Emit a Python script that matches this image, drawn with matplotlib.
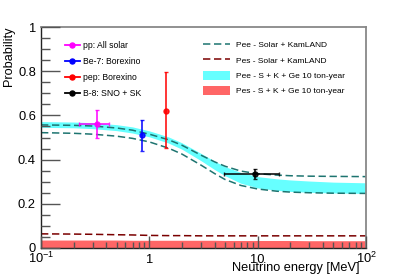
import matplotlib
matplotlib.use('Agg')
import matplotlib.pyplot as plt
from matplotlib.lines import Line2D
from matplotlib.patches import Patch
from matplotlib.ticker import FixedLocator, LogLocator, MultipleLocator, NullFormatter

plt.rcParams['font.family'] = ['Liberation Sans', 'DejaVu Sans']
plt.rcParams['mathtext.fontset'] = 'custom'
plt.rcParams['mathtext.rm'] = 'Liberation Sans'
plt.rcParams['mathtext.it'] = 'Liberation Sans:italic'
plt.rcParams['mathtext.bf'] = 'Liberation Sans:bold'

# energies [MeV] at which the curves were read
energy = [0.1, 0.2, 0.3, 0.5, 0.7, 1.0, 1.5, 2.0, 3.0, 4.0, 5.0, 7.0, 10, 15, 20, 30, 50, 100]

# Pee - Solar + KamLAND (upper / lower)
pee_kl_hi = [0.557, 0.555, 0.552, 0.543, 0.533, 0.515, 0.490, 0.465, 0.420, 0.390, 0.370, 0.348,
             0.336, 0.330, 0.327, 0.325, 0.324, 0.323]
pee_kl_lo = [0.522, 0.519, 0.515, 0.506, 0.496, 0.480, 0.452, 0.425, 0.375, 0.337, 0.310, 0.283,
             0.267, 0.257, 0.253, 0.250, 0.248, 0.247]

# Pee - S + K + Ge 10 ton-year band
pee_ge_hi = [0.572, 0.570, 0.567, 0.558, 0.548, 0.530, 0.503, 0.476, 0.428, 0.393, 0.368, 0.342,
             0.323, 0.313, 0.308, 0.303, 0.298, 0.295]
pee_ge_lo = [0.546, 0.544, 0.540, 0.531, 0.520, 0.503, 0.475, 0.447, 0.395, 0.355, 0.327, 0.293,
             0.272, 0.261, 0.256, 0.252, 0.249, 0.247]

# Pes - Solar + KamLAND
pes_kl = [0.064, 0.063, 0.062, 0.060, 0.059, 0.057, 0.056, 0.056, 0.055, 0.055, 0.055, 0.055,
          0.055, 0.055, 0.055, 0.055, 0.055, 0.055]

# Pes - S + K + Ge 10 ton-year band
pes_ge_hi = [0.036, 0.036, 0.036, 0.036, 0.035, 0.035, 0.035, 0.035, 0.035, 0.035, 0.034, 0.034,
             0.034, 0.034, 0.034, 0.033, 0.033, 0.033]
pes_ge_lo = [0.0] * len(energy)

# measurements
meas_labels = ['pp: All solar', 'Be-7: Borexino', 'pep: Borexino', 'B-8: SNO + SK']
meas_colors = ['#ff00ff', '#0000ff', '#ff0000', '#000000']
meas_E = [0.33, 0.862, 1.44, 9.5]
meas_E_lo = [0.224, 0.862, 1.44, 4.9]
meas_E_hi = [0.425, 0.862, 1.44, 15.9]
meas_P = [0.56, 0.511, 0.62, 0.335]
meas_P_lo = [0.50, 0.44, 0.454, 0.312]
meas_P_hi = [0.624, 0.579, 0.795, 0.356]

x_ticks = [0.1, 1, 10, 100]
x_ticklabels = ['$10^{-1}$', '1', '10', '$10^{2}$']

teal = '#1d7470'
darkred = '#7a0000'
cyan = '#66ffff'
pink = '#ff6666'

W, H = 407, 276
fig = plt.figure(figsize=(W / 100, H / 100), dpi=100)
ax = fig.add_axes([41 / W, 28 / H, 325 / W, 221 / H])

ax.fill_between(energy, pes_ge_lo, pes_ge_hi, color=pink, lw=0, zorder=1)
ax.fill_between(energy, pee_ge_lo, pee_ge_hi, color=cyan, lw=0, zorder=1)

dash = (4.8, 2.4)
ax.plot(energy, pee_kl_hi, color=teal, lw=1.1, dashes=dash, zorder=2)
ax.plot(energy, pee_kl_lo, color=teal, lw=1.1, dashes=dash, zorder=2)
ax.plot(energy, pes_kl, color=darkred, lw=1.1, dashes=dash, zorder=2)

for i in range(len(meas_E)):
    xerr = [[meas_E[i] - meas_E_lo[i]], [meas_E_hi[i] - meas_E[i]]]
    yerr = [[meas_P[i] - meas_P_lo[i]], [meas_P_hi[i] - meas_P[i]]]
    if meas_E_lo[i] == meas_E_hi[i]:
        xerr = None
    ax.errorbar([meas_E[i]], [meas_P[i]], xerr=xerr, yerr=yerr, fmt='o', color=meas_colors[i],
                ms=3.6, elinewidth=1.3, capsize=1.5, capthick=1.0, zorder=3, alpha=0.85)

ax.set_xscale('log')
ax.set_xlim(0.1, 100)
ax.set_ylim(0, 1)

ax.xaxis.set_major_locator(FixedLocator(x_ticks))
ax.xaxis.set_minor_locator(LogLocator(base=10, subs=[2, 3, 4, 5, 6, 7, 8, 9]))
ax.xaxis.set_minor_formatter(NullFormatter())
ax.set_xticklabels(x_ticklabels)
ax.yaxis.set_major_locator(MultipleLocator(0.2))
ax.yaxis.set_minor_locator(MultipleLocator(0.05))
ax.set_yticks([0, 0.2, 0.4, 0.6, 0.8, 1.0])
ax.set_yticklabels(['0', '0.2', '0.4', '0.6', '0.8', '1'])

ax.tick_params(axis='both', which='both', direction='in', top=False, right=False,
               color='#555555', labelsize=9.3, width=1.0)
ax.tick_params(axis='y', which='major', length=13.7, pad=3.6)
ax.tick_params(axis='y', which='minor', length=6.8)
ax.tick_params(axis='x', which='major', length=8.6, pad=11.0)
ax.tick_params(axis='x', which='minor', length=4.3)
for lab in ax.get_xticklabels():
    lab.set_verticalalignment('baseline')

for side in ['left', 'bottom']:
    ax.spines[side].set_color('#222222')
    ax.spines[side].set_linewidth(1.0)
for side in ['top', 'right']:
    ax.spines[side].set_color('#888888')
    ax.spines[side].set_linewidth(1.3)
ax.set_axisbelow(False)

fig.text(359 / W, 1 - 268 / H, 'Neutrino energy [MeV]', ha='right', va='center', fontsize=9.2)
fig.text(9 / W, 1 - 27 / H, 'Probability', rotation=90, ha='center', va='top', fontsize=9.2)

# legend with the measurements
h1 = [Line2D([], [], color=c, marker='o', ms=3.6, lw=1.3) for c in meas_colors]
leg1 = ax.legend(h1, meas_labels, loc='upper left', bbox_to_anchor=(65 / W, 1 - 41 / H),
                 bbox_transform=fig.transFigure, frameon=False, fontsize=6.2,
                 handlelength=1.74, handletextpad=0.35, labelspacing=0.8,
                 borderpad=0, borderaxespad=0)
ax.add_artist(leg1)

# legend with the model curves
h2 = [Line2D([], [], color=teal, lw=1.1, dashes=dash),
      Line2D([], [], color=darkred, lw=1.1, dashes=dash),
      Patch(facecolor=cyan, edgecolor='none'),
      Patch(facecolor=pink, edgecolor='none')]
l2 = ['Pee - Solar + KamLAND', 'Pes - Solar + KamLAND',
      'Pee - S + K + Ge 10 ton-year', 'Pes - S + K + Ge 10 ton-year']
ax.legend(h2, l2, loc='upper left', bbox_to_anchor=(203 / W, 1 - 40 / H),
          bbox_transform=fig.transFigure, frameon=False, fontsize=6.0,
          handlelength=3.2, handleheight=1.3, handletextpad=0.7, labelspacing=0.72,
          borderpad=0, borderaxespad=0)

fig.savefig('out.png', dpi=100)
